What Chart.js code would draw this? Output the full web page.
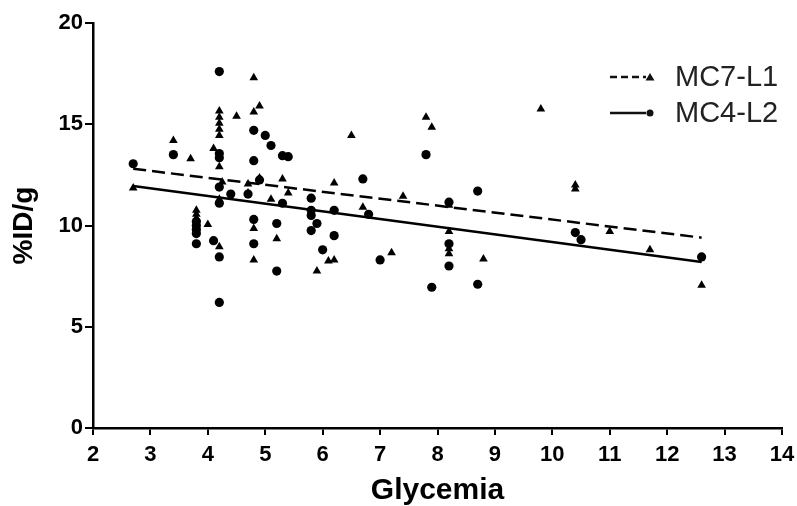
<!DOCTYPE html>
<html>
<head>
<meta charset="utf-8">
<script src="https://cdn.jsdelivr.net/npm/chart.js@4/dist/chart.umd.min.js"></script>
<style>
html,body{margin:0;padding:0;background:#fff;}
#wrap{width:797px;height:506px;}
</style>
</head>
<body>
<div id="wrap"><canvas id="c" width="797" height="506"></canvas></div>
<script>
// Series names
const seriesNames = ["MC7-L1", "MC4-L2"];

// MC7-L1 (triangles)
const mc7X = [2.7, 3.4, 3.7, 3.8, 3.8, 3.8, 4.0, 4.1, 4.2, 4.2, 4.2, 4.2, 4.2, 4.2, 4.25, 4.2, 4.2,
  4.5, 4.7, 4.7, 4.8, 4.8, 4.9, 4.8, 4.8, 4.9, 5.1, 5.2, 5.3, 5.4, 5.9, 6.1, 6.2, 6.2, 6.5, 6.7,
  7.2, 7.4, 7.8, 7.9, 8.2, 8.2, 8.2, 8.2, 8.8, 9.8, 10.4, 10.4, 11.0, 11.7, 12.6];
const mc7Y = [11.85, 14.2, 13.3, 10.75, 10.55, 10.35, 10.05, 13.8, 15.65, 15.35, 15.05, 14.75, 14.45, 12.9, 12.15, 11.3, 8.95,
  15.4, 12.05, 11.6, 17.3, 15.6, 15.9, 9.85, 8.3, 12.35, 11.3, 9.35, 12.3, 11.6, 7.75, 8.25, 8.3, 12.1, 14.45, 10.9,
  8.65, 11.45, 15.35, 14.85, 11.0, 9.7, 8.85, 8.6, 8.35, 15.75, 12.0, 11.8, 9.7, 8.8, 7.05];

// MC4-L2 (circles)
const mc4X = [2.7, 3.4, 3.8, 3.8, 3.8, 3.8, 3.8, 4.1, 4.2, 4.2, 4.2, 4.2, 4.2, 4.2, 4.2, 4.4, 4.7,
  4.8, 4.8, 4.8, 4.8, 4.9, 5.0, 5.1, 5.2, 5.2, 5.3, 5.4, 5.3, 5.8, 5.8, 5.8, 5.8, 5.9, 6.0, 6.2, 6.2,
  6.7, 6.8, 7.0, 7.8, 7.9, 8.2, 8.2, 8.2, 8.7, 8.7, 10.4, 10.5, 12.6];
const mc4Y = [13.05, 13.5, 10.2, 10.0, 9.8, 9.6, 9.1, 9.25, 17.6, 13.55, 13.35, 11.9, 11.1, 8.45, 6.2, 11.55, 11.55,
  14.7, 13.2, 10.3, 9.1, 12.25, 14.45, 13.95, 10.1, 7.75, 13.45, 13.4, 11.1, 11.35, 10.75, 10.5, 9.75, 10.1, 8.8, 10.75, 9.5,
  12.3, 10.55, 8.3, 13.5, 6.95, 11.15, 9.1, 8.0, 11.7, 7.1, 9.65, 9.3, 8.45];

// Regression lines (endpoints)
const fitX = [2.7, 12.6];
const mc7FitY = [12.8, 9.4];
const mc4FitY = [11.95, 8.2];

// Axis ticks
const xTicks = [2, 3, 4, 5, 6, 7, 8, 9, 10, 11, 12, 13, 14];
const yTicks = [0, 5, 10, 15, 20];
const xTitle = "Glycemia";
const yTitle = "%ID/g";

const pts = (xs, ys) => xs.map((x, i) => ({x: x, y: ys[i]}));
const FONT = '"Liberation Sans", Arial, sans-serif';

const legendPlugin = {
  id: 'customLegend',
  afterDraw(chart) {
    const ctx = chart.ctx;
    const items = [
      {label: seriesNames[0], dash: [7, 4], style: 'triangle', y: 77},
      {label: seriesNames[1], dash: [], style: 'circle', y: 113}
    ];
    ctx.save();
    items.forEach(it => {
      ctx.strokeStyle = '#111';
      ctx.lineWidth = 2.5;
      ctx.setLineDash(it.dash);
      ctx.beginPath();
      ctx.moveTo(610, it.y);
      ctx.lineTo(646, it.y);
      ctx.stroke();
      ctx.setLineDash([]);
      ctx.fillStyle = '#111';
      if (it.style === 'circle') {
        ctx.beginPath();
        ctx.arc(650, it.y, 3.5, 0, Math.PI * 2);
        ctx.fill();
      } else {
        ctx.beginPath();
        ctx.moveTo(650, it.y - 4);
        ctx.lineTo(654.5, it.y + 3.5);
        ctx.lineTo(645.5, it.y + 3.5);
        ctx.closePath();
        ctx.fill();
      }
      ctx.fillStyle = '#222';
      ctx.font = '29px ' + FONT;
      ctx.textBaseline = 'middle';
      ctx.textAlign = 'left';
      ctx.fillText(it.label, 675, it.y + 1);
    });
    ctx.restore();
  }
};

new Chart(document.getElementById('c'), {
  type: 'scatter',
  data: {
    datasets: [
      {label: seriesNames[0], data: pts(mc7X, mc7Y), pointStyle: 'triangle', pointRadius: 5,
       backgroundColor: '#000', borderColor: '#000', borderWidth: 0, order: 2},
      {label: seriesNames[1], data: pts(mc4X, mc4Y), pointStyle: 'circle', pointRadius: 4.6,
       backgroundColor: '#000', borderColor: '#000', borderWidth: 0, order: 2},
      {label: seriesNames[0] + ' fit', data: pts(fitX, mc7FitY), showLine: true, pointRadius: 0,
       borderColor: '#000', borderWidth: 2.5, borderDash: [13, 6], fill: false, order: 1},
      {label: seriesNames[1] + ' fit', data: pts(fitX, mc4FitY), showLine: true, pointRadius: 0,
       borderColor: '#000', borderWidth: 2.5, fill: false, order: 1}
    ]
  },
  options: {
    responsive: false,
    animation: false,
    devicePixelRatio: 1,
    layout: {padding: {top: 23, right: 15, left: 0, bottom: 0}},
    plugins: {legend: {display: false}, tooltip: {enabled: false}},
    scales: {
      x: {
        type: 'linear', min: xTicks[0], max: xTicks[xTicks.length - 1],
        afterBuildTicks: s => { s.ticks = xTicks.map(v => ({value: v})); },
        afterFit: s => { s.height = 78; s.paddingRight = 0; s.paddingLeft = 0; },
        ticks: {color: '#000', font: {family: FONT, size: 22, weight: 'bold'}, padding: 7, maxRotation: 0},
        grid: {drawOnChartArea: false, drawTicks: true, tickLength: 7, color: '#000', lineWidth: 2},
        border: {display: true, color: '#000', width: 2.5},
        title: {display: true, text: xTitle, color: '#000', font: {family: FONT, size: 30, weight: 'bold'}, padding: {top: 0, bottom: -3}}
      },
      y: {
        type: 'linear', min: yTicks[0], max: yTicks[yTicks.length - 1],
        afterBuildTicks: s => { s.ticks = yTicks.map(v => ({value: v})); },
        afterFit: s => { s.width = 93; },
        ticks: {color: '#000', font: {family: FONT, size: 22, weight: 'bold'}, padding: 2},
        grid: {drawOnChartArea: false, drawTicks: true, tickLength: 8, color: '#000', lineWidth: 2},
        border: {display: true, color: '#000', width: 2.5},
        title: {display: true, text: yTitle, color: '#000', font: {family: FONT, size: 28, weight: 'bold'}, padding: {top: 7, bottom: 0}}
      }
    }
  },
  plugins: [legendPlugin]
});
</script>
</body>
</html>
